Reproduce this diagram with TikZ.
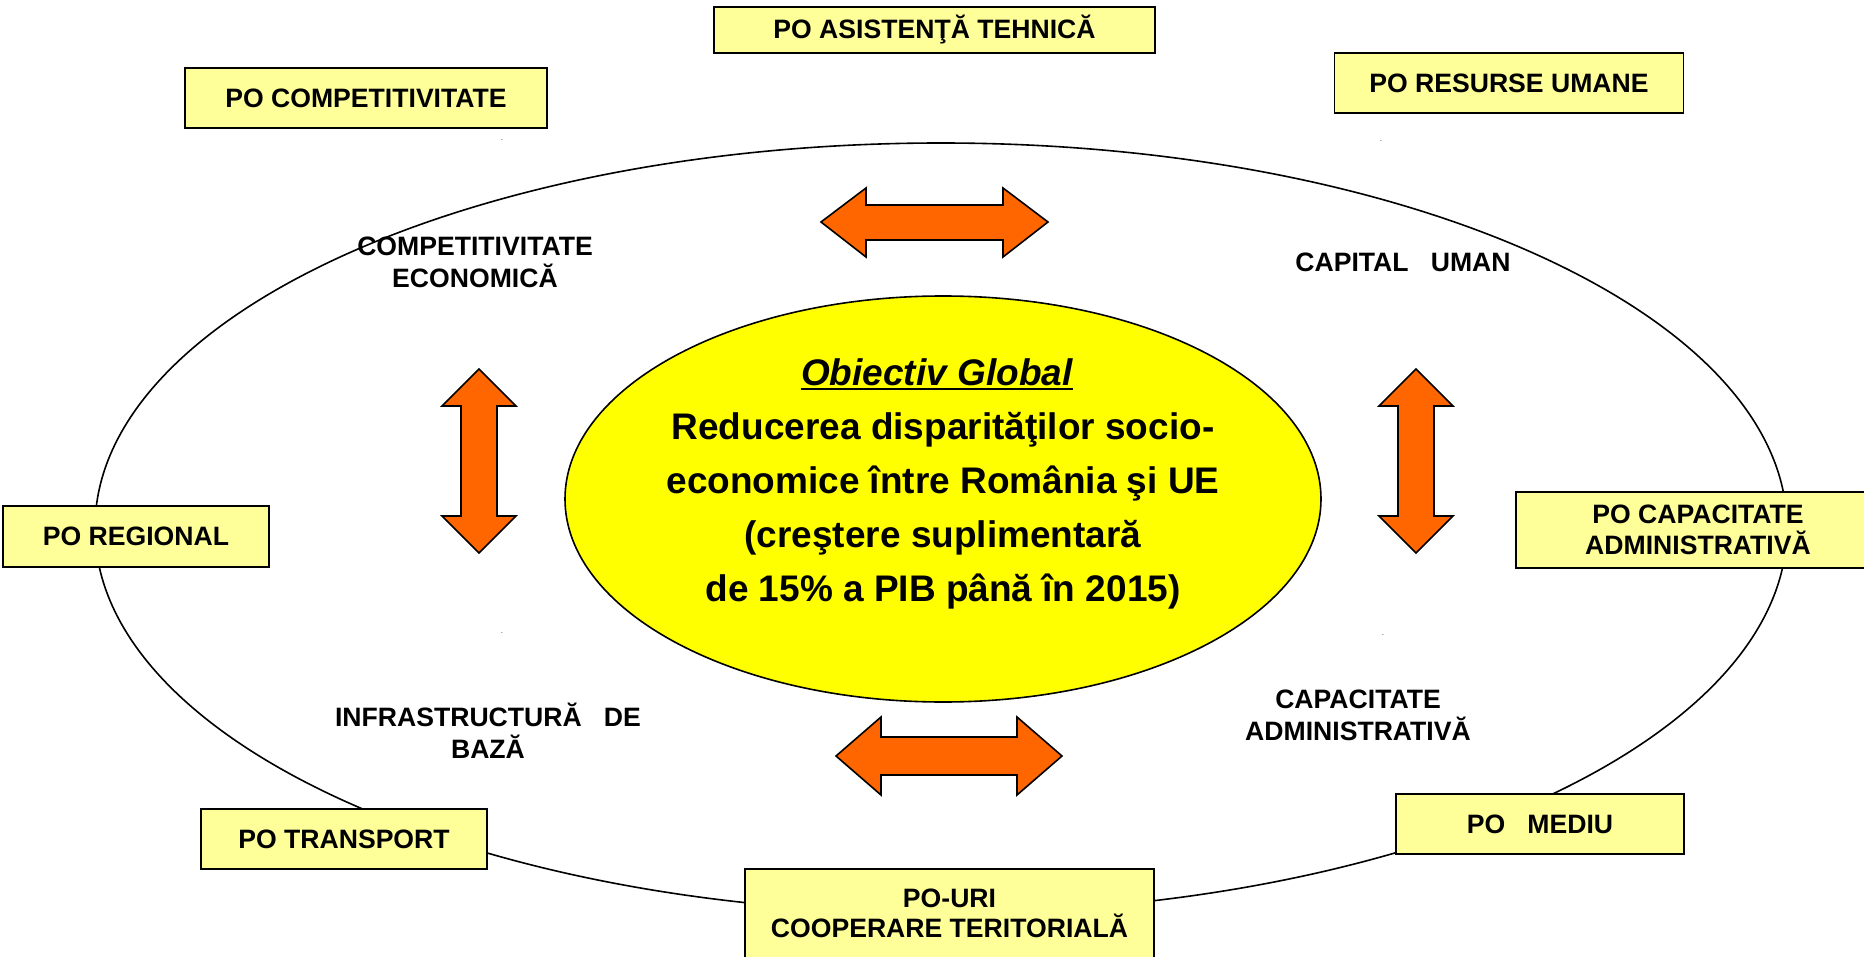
\documentclass[tikz,border=0pt]{standalone}
\usepackage{fontspec}
\setmainfont{Liberation Sans}
\usepackage{tikz}
\usepackage{xcolor}

\definecolor{poYellow}{HTML}{FFFF99}
\definecolor{goalYellow}{HTML}{FFFF00}
\definecolor{arrowOrange}{HTML}{FF6600}
\definecolor{dotNavy}{HTML}{1F3F7A}

\newcommand{\thickUnderline}[1]{\setbox0\hbox{#1}\rlap{\rule[-2.4pt]{\wd0}{1.2pt}}\box0}

\begin{document}
\begin{tikzpicture}[x=0.5pt, y=-0.5pt,
    pobox/.style={draw, line width=0.8pt, fill=poYellow, inner sep=0pt, align=center,
      font=\fontsize{13.3}{15.5}\selectfont\bfseries},
    axislabel/.style={align=center, font=\fontsize{13.3}{16}\selectfont\bfseries},
    goaltext/.style={align=center, font=\fontsize{18.5}{27}\selectfont\bfseries},
    twoway/.style={draw, line width=0.8pt, fill=arrowOrange},
    straydot/.style={inner sep=0pt, text=dotNavy, font=\fontsize{4}{4}\selectfont}]

                \clip (0,0) rectangle (1864,957);
                \fill[white] (0,0) rectangle (1864,957);

                % outer ring
                \draw[line width=0.8pt] (941,528) ellipse [x radius=846, y radius=385];

                % programmes round the ring
                \node[pobox, minimum width=220.5pt, minimum height=23pt] (poAsistenta) at (934.5,30) {PO ASISTENŢĂ TEHNICĂ};
                \node[pobox, minimum width=181pt, minimum height=30pt] (poCompetitivitate) at (366,98) {PO COMPETITIVITATE};
                \node[pobox, minimum width=174.5pt, minimum height=30pt] (poResurse) at (1509,83) {PO RESURSE UMANE};
                \node[pobox, minimum width=133pt, minimum height=30.5pt] (poRegional) at (136,536.5) {PO REGIONAL};
                \node[pobox, minimum width=182pt, minimum height=38pt] (poCapacitate) at (1698,530) {PO CAPACITATE\\ADMINISTRATIVĂ};
                \node[pobox, minimum width=143pt, minimum height=30pt] (poTransport) at (344,839) {PO TRANSPORT};
                \node[pobox, minimum width=144pt, minimum height=30pt] (poMediu) at (1540,824) {PO\ \ \ MEDIU};
                \node[pobox, minimum width=204.5pt, minimum height=50pt] (poCooperare) at (949.5,919) {};
                \node[axislabel, font=\fontsize{13.3}{15}\selectfont\bfseries] (poCooperareText) at (949.5,913) {PO-URI\\COOPERARE TERITORIALĂ};

                % stray dots
                \node[straydot] (dotA) at (502,140) {.};
                \node[straydot] (dotB) at (1381,141) {.};
                \node[straydot] (dotC) at (502,633) {.};
                \node[straydot] (dotD) at (1383,635) {.};

                % axes
                \node[axislabel] (lblCompetitivitate) at (475,262) {COMPETITIVITATE\\ECONOMICĂ};
                \node[axislabel] (lblCapital) at (1403,262) {CAPITAL\ \ \ UMAN};
                \node[axislabel] (lblInfrastructura) at (488,731) {INFRASTRUCTURĂ\ \ \ DE\\BAZĂ};
                \node[axislabel] (lblCapacitate) at (1358,715) {CAPACITATE\\ADMINISTRATIVĂ};

                % global objective
                \draw[line width=0.8pt, fill=goalYellow] (943,499) ellipse [x radius=378, y radius=203];
                \node[goaltext] (goalText) at (943,484) {\thickUnderline{\itshape Obiectiv Global}{\color{goalYellow}:}\\Reducerea disparităţilor socio-\\economice între România şi UE\\(creştere suplimentară\\de 15\% a PIB până în 2015)};

                % double arrows
                \draw[twoway] (821,222) -- (866,188) -- (866,205) -- (1003,205) -- (1003,188) -- (1048,222) -- (1003,257) -- (1003,240) -- (866,240) -- (866,257) -- cycle;
                \draw[twoway] (836,756) -- (881,717) -- (881,737) -- (1017,737) -- (1017,717) -- (1062,756) -- (1017,795) -- (1017,775) -- (881,775) -- (881,795) -- cycle;
                \draw[twoway] (479,369) -- (516,406) -- (497,406) -- (497,516) -- (516,516) -- (479,553) -- (442,516) -- (461,516) -- (461,406) -- (442,406) -- cycle;
                \draw[twoway] (1416,369) -- (1453,406) -- (1434,406) -- (1434,516) -- (1453,516) -- (1416,553) -- (1379,516) -- (1398,516) -- (1398,406) -- (1379,406) -- cycle;
            \end{tikzpicture}
\end{document}
